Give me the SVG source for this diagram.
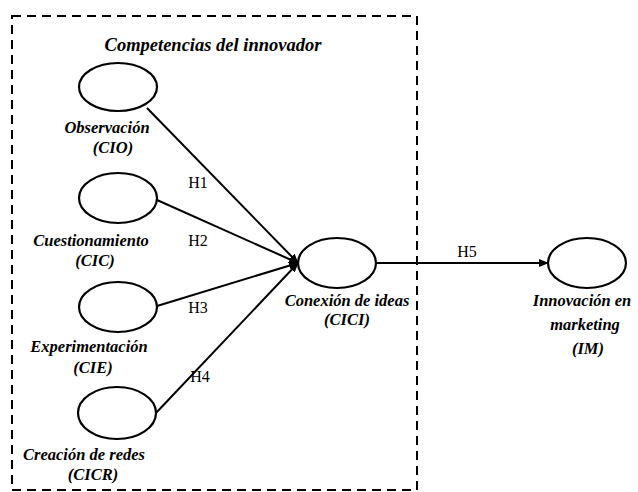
<svg xmlns="http://www.w3.org/2000/svg" width="638" height="492" viewBox="0 0 638 492">
<defs>
<style>
.node{fill:#fff;stroke:#000;stroke-width:2.2}
.lbl{font-family:"Liberation Serif","Times New Roman",serif;font-weight:bold;font-style:italic;font-size:16.5px;text-anchor:middle;fill:#000}
.h{font-family:"Liberation Serif","Times New Roman",serif;font-size:16px;text-anchor:middle;fill:#000}
.edge{stroke:#000;stroke-width:2;fill:none}
</style>
<marker id="arr" markerWidth="10" markerHeight="8" refX="9" refY="4" orient="auto" markerUnits="userSpaceOnUse">
<path d="M0,0 L10,4 L0,8 Z" fill="#000"/>
</marker>
</defs>
<rect x="12" y="16" width="405" height="474" fill="none" stroke="#000" stroke-width="2" stroke-dasharray="9,6"/>
<text class="lbl" x="213" y="51" style="font-size:18.5px">Competencias  del innovador</text>
<g id="connectors">
<line class="edge" x1="147" y1="108" x2="298" y2="263" marker-end="url(#arr)"/>
<line class="edge" x1="157" y1="200" x2="298" y2="263" marker-end="url(#arr)"/>
<line class="edge" x1="157" y1="306" x2="298" y2="263" marker-end="url(#arr)"/>
<line class="edge" x1="155" y1="414" x2="298" y2="263" marker-end="url(#arr)"/>
<line class="edge" x1="377" y1="263" x2="548" y2="263" marker-end="url(#arr)"/>
<text class="h" x="198" y="188">H1</text>
<text class="h" x="198" y="246">H2</text>
<text class="h" x="198" y="313">H3</text>
<text class="h" x="200" y="382">H4</text>
<text class="h" x="467" y="257">H5</text>
</g>
<g id="CIO">
<ellipse class="node" cx="118" cy="87" rx="39" ry="24"/>
<text class="lbl" x="107" y="133">Observación</text>
<text class="lbl" x="113" y="153">(CIO)</text>
</g>
<g id="CIC">
<ellipse class="node" cx="118" cy="198" rx="39" ry="25"/>
<text class="lbl" x="91" y="246">Cuestionamiento</text>
<text class="lbl" x="95" y="266">(CIC)</text>
</g>
<g id="CIE">
<ellipse class="node" cx="118" cy="307" rx="39" ry="25"/>
<text class="lbl" x="89" y="352">Experimentación</text>
<text class="lbl" x="93" y="373">(CIE)</text>
</g>
<g id="CICR">
<ellipse class="node" cx="117" cy="413" rx="39" ry="26"/>
<text class="lbl" x="84" y="460">Creación de redes</text>
<text class="lbl" x="93" y="480">(CICR)</text>
</g>
<g id="CICI">
<ellipse class="node" cx="337" cy="263" rx="39" ry="25"/>
<text class="lbl" x="347" y="306">Conexión de ideas</text>
<text class="lbl" x="347" y="325">(CICI)</text>
</g>
<g id="IM">
<ellipse class="node" cx="587" cy="263" rx="39" ry="25"/>
<text class="lbl" x="582" y="306">Innovación en</text>
<text class="lbl" x="585" y="330">marketing</text>
<text class="lbl" x="588" y="354">(IM)</text>
</g>
</svg>
